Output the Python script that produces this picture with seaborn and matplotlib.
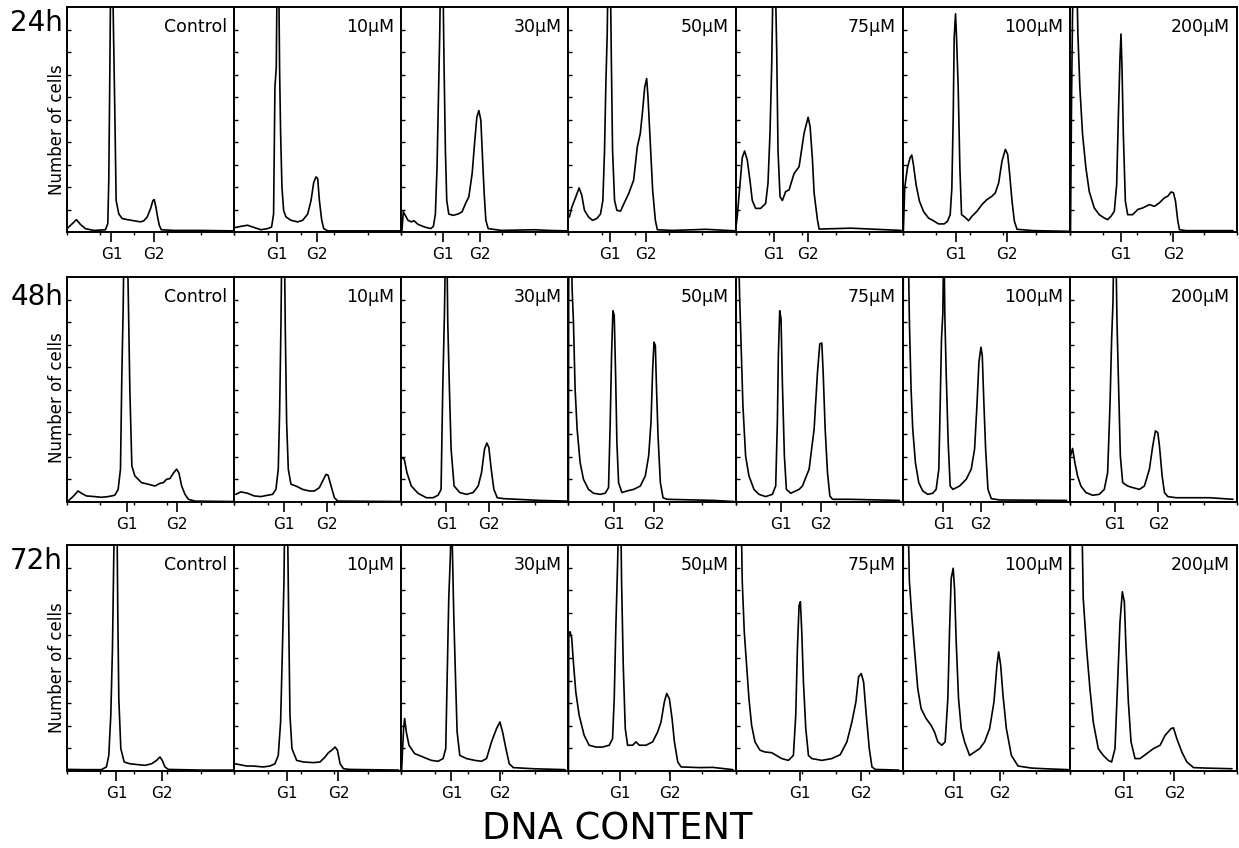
import numpy as np
import matplotlib
matplotlib.use("Agg")
import matplotlib.pyplot as plt
import seaborn as sns

# row / column labels
times = ["24h", "48h", "72h"]
doses = ["Control", "10μM", "30μM", "50μM", "75μM", "100μM", "200μM"]

# G1 / G2 channel positions per panel (DNA content channel, 0-250)
g1_24 = [66.5, 64, 62.5, 62.5, 58, 79.5, 76.5]
g2_24 = [130, 124, 117.5, 116, 108, 156, 155]
g1_48 = [89, 74, 67.5, 67.5, 67.5, 61, 67.5]
g2_48 = [165, 139, 131.5, 128.5, 127.5, 117.5, 132.5]
g1_72 = [74, 79.5, 75, 77, 96.5, 76, 81]
g2_72 = [141.5, 156, 147.5, 152, 188, 146, 156.5]

# histograms (values >100 are off scale)
# ---- 24h ----
h24_c0_x = [0, 9, 14, 20, 27.5, 40, 57.5, 61, 62.5, 64, 65.5, 68, 69.5, 71.5, 73.5, 77.5, 82.5, 90, 100, 110, 115, 120, 125, 128.5, 130.5, 133, 135.5, 138, 141, 160, 200, 249]
h24_c0_y = [1.5, 4, 5.5, 3.4, 1.5, 0.7, 1, 3.7, 23, 69, 120, 120, 90, 54, 14, 8, 6, 5.5, 5, 4.5, 5, 6.7, 10.4, 14, 14.4, 11, 6.7, 3, 1, 0.7, 0.7, 0.5]
h24_c1_x = [1.5, 10, 20, 30, 40, 50, 56, 59, 61, 63, 64.5, 66.5, 68, 69.5, 71.5, 74, 77.5, 85, 95, 102.5, 110, 115, 119, 122.5, 125, 127.5, 131, 134, 140, 200, 247.5]
h24_c1_y = [2, 2.5, 3, 2, 1, 1.5, 2.2, 8, 64.5, 73, 120, 120, 72, 44, 20, 9.6, 6.7, 5.2, 4.5, 5.2, 8, 14, 22, 24.5, 23.7, 14, 5.2, 1.5, 0.5, 0.5, 0.5]
h24_c2_x = [1, 3, 6, 10, 15, 19, 25, 35, 44, 48, 51, 53.5, 55.5, 57.5, 59, 62, 64, 66, 68, 71, 77.5, 85, 91, 96, 101, 106, 110, 113, 116, 119, 121, 124, 126.5, 130, 150, 200, 220, 247.5]
h24_c2_y = [0.7, 9, 7.4, 5.2, 4.5, 5, 3.4, 2.2, 1.5, 2.5, 8, 29, 58.6, 88, 120, 120, 73.4, 36, 14, 8, 7.4, 8, 9, 12.6, 15.6, 26, 40.8, 51, 54, 49.7, 36.3, 17, 5.2, 1.5, 0.7, 1, 0.7, 0.5]
h24_c3_x = [1.5, 5, 10, 16, 20, 24, 30, 36, 42.5, 48, 51.5, 54, 56, 58, 59.5, 62.5, 64, 66, 69, 72.5, 78, 83, 90, 97.5, 103, 107.5, 111, 114, 117, 119, 122.5, 126, 130, 133, 155, 187.5, 205, 250]
h24_c3_y = [6.7, 11, 14.8, 19.6, 16.3, 9.6, 6.7, 5.2, 6, 8, 14, 36.3, 66, 88, 120, 120, 81, 36.3, 14, 9.6, 9.3, 12.6, 17, 23, 37.8, 43.8, 54, 64.2, 68.2, 60, 39.3, 18.5, 5.2, 1, 0.7, 1, 1.2, 0.5]
h24_c4_x = [0.5, 2.5, 5, 10, 13.5, 17.5, 21.5, 25, 30, 37.5, 45, 48.5, 51.5, 54, 56.5, 59, 61.5, 63.5, 66.5, 70, 75, 80, 87.5, 95, 102.5, 108.5, 111.5, 115, 117.5, 122.5, 125, 172.5, 247.5]
h24_c4_y = [2, 6.8, 15.7, 33, 36, 32, 23, 14, 10.5, 10.5, 12.7, 21.7, 44, 73.5, 120, 120, 81, 36, 15.7, 14, 18, 18.7, 26, 29, 44, 51, 46.8, 32, 17.2, 5.3, 1.3, 1.7, 0.7]
h24_c5_x = [1, 3, 7, 11, 13.5, 16, 20, 25, 31, 38.5, 46, 53.5, 62, 67, 71, 73.5, 75.5, 77, 79, 80.5, 83, 85.5, 88, 93.5, 98.5, 103.5, 111, 118.5, 126, 133.5, 138.5, 143.5, 148.5, 153.5, 157, 160, 163.5, 167, 171, 196, 248.5]
h24_c5_y = [0.6, 19.6, 28.5, 33, 34.2, 30, 21, 13.7, 9.2, 6.2, 5, 3.6, 3.6, 4.8, 7.7, 19.6, 50.8, 86.5, 97, 86.5, 64, 28.5, 7.7, 6.5, 5, 7, 9.2, 12.2, 14.4, 15.9, 17.4, 21.8, 31.5, 36.7, 34.5, 25.6, 13.7, 4.8, 1.2, 0.6, 0.3]
h24_c6_x = [1, 2.5, 4, 6, 10, 12, 15, 19, 24, 29, 36.5, 44, 51.5, 56.5, 61.5, 66.5, 70, 72.5, 75, 76.5, 78, 80, 83, 86.5, 94, 101.5, 109, 119, 126.5, 134, 141.5, 146.5, 151.5, 155, 158, 161.5, 164, 174, 244]
h24_c6_y = [0.6, 58, 97, 120, 120, 88, 64, 43.4, 28.5, 18, 10.7, 7.7, 6.2, 5.5, 7, 9.2, 21, 50.8, 77.6, 88, 73, 43.4, 13.7, 7.7, 7.7, 10, 10.7, 12.2, 11.4, 13, 15.2, 15.9, 17.8, 17.4, 13.7, 4.8, 1, 0.6, 0.6]

# ---- 48h ----
h48_c0_x = [1.5, 9, 16.5, 21.5, 29, 41.5, 51.5, 61.5, 71.5, 76.5, 80, 82, 84, 85.5, 90, 92, 94, 97, 101.5, 111.5, 121.5, 131.5, 139, 144, 149, 154, 159, 164, 167.5, 171.5, 176.5, 181.5, 191.5, 250]
h48_c0_y = [0.4, 2.4, 4.9, 3.9, 2.7, 2.4, 2.1, 2.4, 3, 5.6, 14.6, 56, 86, 120, 120, 86, 50, 16, 11.6, 8.6, 7.9, 7.1, 8.3, 8.6, 10.1, 10.4, 12.8, 14.6, 12.8, 7.1, 3.4, 1.2, 0.4, 0.2]
h48_c1_x = [2.5, 10, 20, 30, 40, 50, 57.5, 62.5, 66, 68, 70, 71.5, 75, 76.5, 78.5, 81, 85, 92.5, 102.5, 112.5, 120, 127.5, 132.5, 137.5, 140.5, 145, 150, 155, 250]
h48_c1_y = [3.4, 4.5, 3.9, 2.7, 2.4, 3, 3.4, 5.6, 14.6, 39.8, 78.5, 120, 120, 77, 35.4, 14.6, 7.9, 7.1, 5.6, 4.9, 4.9, 6.4, 9.4, 12.3, 11.9, 7.1, 1.9, 0.4, 0.2]
h48_c2_x = [0.5, 4.5, 8.5, 15, 25, 37.5, 47.5, 55, 59.5, 62, 64.5, 66.5, 68, 69.5, 72, 74.5, 79, 87.5, 97.5, 107.5, 115, 120, 124.5, 128, 131, 134.5, 138.5, 143.5, 152.5, 207.5, 247.5]
h48_c2_y = [19.8, 19, 13, 7.1, 3.9, 1.9, 1.9, 3, 5.6, 50.2, 83, 120, 120, 80, 50.2, 23.5, 7.1, 4.2, 3.4, 4.2, 7.1, 13, 23.5, 26.2, 24.2, 14.6, 5.6, 1.9, 1.5, 0.7, 0.4]
h48_c3_x = [0, 0.5, 4, 5.5, 7.5, 10, 13, 17.5, 22.5, 30, 37.5, 47.5, 55, 60, 62.5, 64.5, 66.5, 68.5, 70.5, 72.5, 75, 80, 87.5, 97.5, 107.5, 115, 120, 123.5, 126, 128, 130, 131.5, 134, 137.5, 141.5, 147.5, 217.5, 247.5]
h48_c3_y = [0.5, 120, 120, 94.8, 80, 50.2, 32.4, 17.5, 10.1, 5.6, 3.9, 3.4, 3.9, 6.4, 35.4, 65, 85, 83, 57.6, 26.4, 8.6, 4.2, 4.9, 5.6, 7.1, 11.6, 20.5, 35.4, 59.1, 71, 69.5, 53.2, 29.4, 8.6, 1.9, 1.2, 0.7, 0.2]
h48_c4_x = [0, 0.5, 4, 6, 8, 11, 15, 20, 27.5, 35, 45, 55, 60, 62.5, 64, 66, 68, 70, 73, 76, 82.5, 90, 95, 100, 110, 117.5, 122.5, 126, 129, 131, 134, 137.5, 141, 145, 170, 245]
h48_c4_y = [0.5, 120, 120, 91.8, 72.5, 42.8, 20.5, 11.6, 5.6, 3.4, 2.4, 3.4, 7.1, 35.4, 65, 85, 81.4, 53.2, 20.5, 5.6, 3.9, 4.9, 5.6, 7.1, 14.6, 32.4, 57.6, 70.3, 70.7, 57.6, 32.4, 13, 2.7, 1.2, 1.2, 0.7]
h48_c5_x = [0, 1, 8, 10, 12.5, 15, 19, 24, 30, 37.5, 45, 50, 54, 56, 58, 60, 61.5, 63, 65, 68, 71, 75, 85, 95, 102.5, 107.5, 111, 114, 117, 119, 121, 124, 127.5, 132.5, 145, 245]
h48_c5_y = [0.5, 120, 120, 80, 50.2, 32.4, 17.5, 8.6, 4.9, 3.4, 3.9, 5.6, 14.6, 42.8, 72.5, 83.7, 120, 83, 57.6, 26.4, 7.1, 5.6, 7.1, 10.1, 14.6, 23.5, 42.8, 62.1, 68.8, 65, 47.3, 23.5, 5.6, 1.5, 0.9, 0.7]
h48_c6_x = [1, 4, 7.5, 11.5, 16.5, 24, 34, 44, 51.5, 56.5, 60, 62.5, 64.5, 66, 68.5, 70.5, 73, 75.5, 79, 86.5, 94, 104, 111.5, 119, 124, 128, 131.5, 134, 138, 141.5, 146.5, 159, 209, 244]
h48_c6_y = [20.5, 23.8, 17.5, 11.6, 7.1, 4.2, 3, 3.4, 5.6, 13, 42.8, 72.5, 88.9, 120, 120, 80, 50.2, 20.5, 8.6, 7.1, 6.4, 5.6, 7.1, 14.6, 25, 31.6, 30.9, 25, 11.6, 4.2, 2.4, 1.9, 1.9, 1.2]

# ---- 72h ----
h72_c0_x = [1.5, 26.5, 51.5, 59, 62.5, 65.5, 68, 70, 71.5, 74.5, 76, 77.5, 80.5, 85.5, 94, 106.5, 116.5, 126.5, 134, 139, 142.5, 146.5, 151.5, 201.5, 249]
h72_c0_y = [0.7, 0.6, 0.6, 1.8, 6.9, 24.7, 54.2, 95.6, 120, 120, 69, 32, 9.9, 4, 3.2, 2.8, 2.5, 3.2, 4.7, 6.2, 4.7, 1.8, 0.7, 0.4, 0.4]
h72_c1_x = [1, 8.5, 18.5, 28.5, 43.5, 53.5, 61, 66, 69.5, 72, 74.5, 76, 79.5, 81.5, 83.5, 86.5, 93.5, 103.5, 118.5, 128.5, 136, 141, 146, 151, 154.5, 158.5, 163.5, 173.5, 246]
h72_c1_y = [3.2, 2.8, 2.2, 2.2, 1.8, 2.2, 3.2, 6.9, 21.7, 51.3, 83.8, 120, 120, 69, 24.7, 9.9, 4.7, 4, 3.7, 4, 6.2, 8.1, 9.2, 10.6, 9.2, 3.2, 1, 0.7, 0.4]
h72_c2_x = [0.5, 1.5, 3.5, 5, 7.5, 11.5, 20, 32.5, 45, 55, 62.5, 66.5, 68.5, 71, 73.5, 75, 76.5, 78.5, 81, 83.5, 87.5, 97.5, 110, 120, 127.5, 135, 142.5, 147.5, 151.5, 156.5, 161.5, 167.5, 197.5, 245]
h72_c2_y = [0.5, 6.9, 18.8, 23.2, 17.3, 11.4, 7.7, 6.2, 4.7, 4.3, 5.5, 9.9, 39.4, 76.4, 95.6, 120, 97, 69, 42.4, 17.3, 6.9, 5.5, 4.7, 4.3, 5.5, 12.9, 18.8, 21.7, 17.3, 9.9, 3.2, 1.5, 1, 0.6]
h72_c3_x = [0, 0.5, 2.5, 5, 7, 11, 16, 23.5, 31, 41, 51, 61, 66, 68.5, 71, 73.5, 75.5, 78, 79.5, 82, 85, 88.5, 96, 101, 106, 116, 126, 133.5, 138.5, 143.5, 147, 151, 155, 158.5, 163.5, 168.5, 196, 216, 246]
h72_c3_y = [0.5, 60.9, 61.6, 58.6, 49.8, 35, 24.7, 15.8, 11.4, 10.6, 10.6, 11.4, 14.3, 32, 64.5, 91.1, 120, 120, 83.8, 46.8, 18.8, 11.4, 11.4, 12.9, 11.4, 11.4, 12.9, 17.3, 21.7, 30.6, 34.3, 32, 23.2, 12.9, 4, 1.8, 1.5, 1.6, 0.6]
h72_c4_x = [0, 0.5, 8, 10, 13, 16.5, 20, 24, 29, 36.5, 44, 54, 69, 79, 86.5, 90, 92.5, 95, 97, 99, 101.5, 105, 109, 114, 129, 144, 156.5, 166.5, 174, 180, 184, 188, 191.5, 195.5, 200, 204, 209, 244]
h72_c4_y = [0.5, 120, 120, 83.8, 61.6, 46.8, 32, 20.2, 12.9, 9.2, 8.4, 8.1, 5.5, 4.7, 6.9, 24.7, 54.2, 73.4, 74.9, 61.6, 39.4, 18.8, 6.9, 5.5, 4.7, 5.5, 7.2, 12.9, 21.7, 30.6, 41.7, 43.1, 39.4, 24.7, 9.9, 1.8, 0.7, 0.4]
h72_c5_x = [0, 1, 7.5, 10, 13.5, 17.5, 22.5, 27.5, 35, 42.5, 47.5, 52.5, 58.5, 63.5, 67.5, 70, 72.5, 75.5, 77.5, 80, 83.5, 87.5, 92.5, 100, 107.5, 115, 122.5, 130, 136.5, 141, 143.5, 146.5, 150, 155, 162.5, 172.5, 192.5, 212.5, 247.5]
h72_c5_y = [0.5, 120, 120, 83.8, 69, 54.2, 36.5, 27.6, 23.2, 20.2, 17.3, 12.9, 11.4, 12.9, 32, 61.6, 85.2, 89.7, 80.8, 57.2, 32, 18.8, 12.9, 6.9, 8.4, 9.9, 12.9, 18.8, 30.6, 46.8, 52.7, 46.8, 33.5, 18.8, 6.9, 2.2, 1.3, 1, 0.6]
h72_c6_x = [0, 1, 17.5, 20, 25, 30, 35, 42.5, 50, 57.5, 62.5, 67.5, 71.5, 75, 78.5, 81.5, 84, 87.5, 91.5, 97.5, 105, 115, 125, 135, 142.5, 151.5, 155, 160, 167.5, 175, 185, 202.5, 242.5]
h72_c6_y = [0.5, 120, 120, 76.4, 54.2, 36.5, 21.7, 9.9, 6.9, 4.7, 4, 9.9, 39.4, 66, 79.3, 74.9, 54.2, 30.6, 12.9, 5.5, 5.5, 7.7, 9.9, 11.4, 15.8, 18.8, 19.1, 14.3, 8.4, 4, 1.5, 1.3, 1]

rows = [
    [(h24_c0_x, h24_c0_y), (h24_c1_x, h24_c1_y), (h24_c2_x, h24_c2_y), (h24_c3_x, h24_c3_y),
     (h24_c4_x, h24_c4_y), (h24_c5_x, h24_c5_y), (h24_c6_x, h24_c6_y)],
    [(h48_c0_x, h48_c0_y), (h48_c1_x, h48_c1_y), (h48_c2_x, h48_c2_y), (h48_c3_x, h48_c3_y),
     (h48_c4_x, h48_c4_y), (h48_c5_x, h48_c5_y), (h48_c6_x, h48_c6_y)],
    [(h72_c0_x, h72_c0_y), (h72_c1_x, h72_c1_y), (h72_c2_x, h72_c2_y), (h72_c3_x, h72_c3_y),
     (h72_c4_x, h72_c4_y), (h72_c5_x, h72_c5_y), (h72_c6_x, h72_c6_y)],
]
g1_rows = [g1_24, g1_48, g1_72]
g2_rows = [g2_24, g2_48, g2_72]

sns.set_style("ticks")
plt.rcParams['font.family'] = ['DejaVu Sans']
plt.rcParams['text.color'] = 'black'
plt.rcParams['xtick.color'] = 'black'
plt.rcParams['ytick.color'] = 'black'
plt.rcParams['xtick.labelcolor'] = 'black'

W, H = 1239, 848
fig = plt.figure(figsize=(W / 100, H / 100), dpi=100)

row_top = [7, 277, 545]
row_bot = [232, 502, 771]
col_left = 67
col_w = (1237 - 67) / 7

for r in range(3):
    for c in range(7):
        left = col_left + c * col_w
        ax = fig.add_axes([left / W, 1 - row_bot[r] / H, col_w / W, (row_bot[r] - row_top[r]) / H])
        xs, ys = rows[r][c]
        sns.lineplot(x=xs, y=ys, ax=ax, color="black", linewidth=1.2,
                     estimator=None, sort=False)
        ax.set_xlim(0, 250)
        ax.set_ylim(0, 100)
        for s in ax.spines.values():
            s.set_visible(True)
            s.set_linewidth(1.4)
            s.set_color("black")
        ax.set_yticks(np.arange(10, 100, 10))
        ax.set_yticklabels([])
        ax.tick_params(axis="y", direction="in", length=3, width=1, left=True, right=False,
                       color="black")
        ax.set_xticks([g1_rows[r][c], g2_rows[r][c]])
        ax.set_xticklabels(["G1", "G2"], fontsize=11, color="black")
        ax.set_xticks([0, 50, 100, 150, 200, 250], minor=True)
        ax.tick_params(axis="x", which="major", direction="out", length=7.5, width=1.2, pad=3,
                       color="black")
        ax.tick_params(axis="x", which="minor", direction="out", length=2.5, width=1,
                       color="black")
        ax.set_xlabel("")
        ax.set_ylabel("")
        ax.text(1 - 7 / col_w, 1 - 20 / 225, doses[c], transform=ax.transAxes,
                ha="right", va="center", fontsize=12.5, color="black")

# row labels and y labels
label_y = [23, 297, 561]
ylab_y = [130, 398, 668]
for r in range(3):
    fig.text(63 / W, 1 - label_y[r] / H, times[r], ha="right", va="center", fontsize=20,
             color="black")
    fig.text(57 / W, 1 - ylab_y[r] / H, "Number of cells", rotation=90,
             ha="center", va="center", fontsize=12, color="black")

fig.text(617 / W, 1 - 829 / H, "DNA CONTENT", ha="center", va="center", fontsize=26.5,
         color="black")

fig.savefig("out.png", dpi=100)
